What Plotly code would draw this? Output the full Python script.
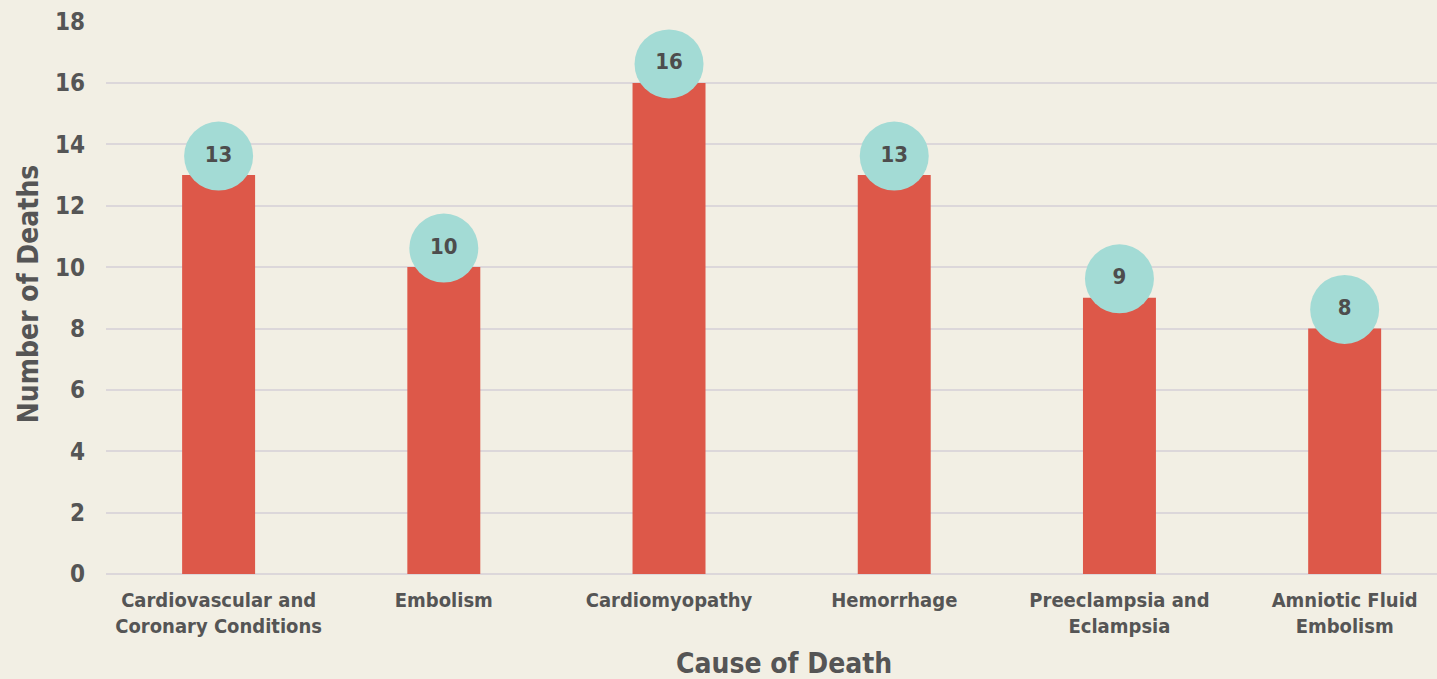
import plotly.graph_objects as go

categories = ["Cardiovascular and Coronary Conditions", "Embolism", "Cardiomyopathy",
              "Hemorrhage", "Preeclampsia and Eclampsia", "Amniotic Fluid Embolism"]
tick_labels = ["Cardiovascular and<br>Coronary Conditions", "Embolism", "Cardiomyopathy",
               "Hemorrhage", "Preeclampsia and<br>Eclampsia", "Amniotic Fluid<br>Embolism"]
deaths = [13, 10, 16, 13, 9, 8]
y_ticks = [0, 2, 4, 6, 8, 10, 12, 14, 16, 18]

FONT = "Liberation Sans Narrow, Arial Narrow, DejaVu Sans Condensed, Roboto, sans-serif"
TXT = "#555555"
BG = "#f2efe4"
GRID = "#dcd7da"

x_pos = list(range(len(categories)))

fig = go.Figure()
fig.add_trace(go.Bar(
    x=x_pos, y=deaths, width=0.324,
    marker=dict(color="#dd5849", line=dict(width=0)),
    hoverinfo="skip",
))
fig.add_trace(go.Scatter(
    x=x_pos, y=[d + 0.62 for d in deaths],
    mode="markers+text",
    marker=dict(size=69, color="#a3dbd5", line=dict(width=0)),
    text=[str(d) for d in deaths],
    textposition="middle center",
    textfont=dict(family=FONT, size=22, color="#4d4d4d", weight="bold"),
    cliponaxis=False,
    hoverinfo="skip",
))

fig.update_layout(
    width=1437, height=679,
    paper_bgcolor=BG, plot_bgcolor=BG,
    margin=dict(l=106, r=0, t=21, b=105),
    showlegend=False,
    font=dict(family=FONT, color=TXT),
    xaxis=dict(
        range=[-0.5, 5.41],
        tickvals=x_pos, ticktext=tick_labels,
        tickfont=dict(family=FONT, size=20, color=TXT, weight="bold"),
        showgrid=False, zeroline=False, showline=False,
        ticks="", ticklabelstandoff=12,
        fixedrange=True,
    ),
    yaxis=dict(
        range=[0, 18.02],
        tickvals=y_ticks,
        tickfont=dict(family=FONT, size=24, color=TXT, weight="bold"),
        showgrid=True, gridcolor=GRID, gridwidth=1.5,
        zeroline=True, zerolinecolor=GRID, zerolinewidth=1.5,
        showline=False, ticks="", ticklabelstandoff=20,
        fixedrange=True,
    ),
    annotations=[
        dict(text="<b>Number of Deaths</b>", textangle=-90,
             xref="paper", yref="paper",
             x=(28 - 106) / 1331, y=(573.5 - 294) / 552.5,
             xanchor="center", yanchor="middle", showarrow=False,
             font=dict(family=FONT, size=28, color=TXT)),
        dict(text="<b>Cause of Death</b>",
             xref="paper", yref="paper",
             x=(784 - 106) / 1331, y=(573.5 - 663) / 552.5,
             xanchor="center", yanchor="middle", showarrow=False,
             font=dict(family=FONT, size=28, color=TXT)),
    ],
)

fig.write_html("out.html")
